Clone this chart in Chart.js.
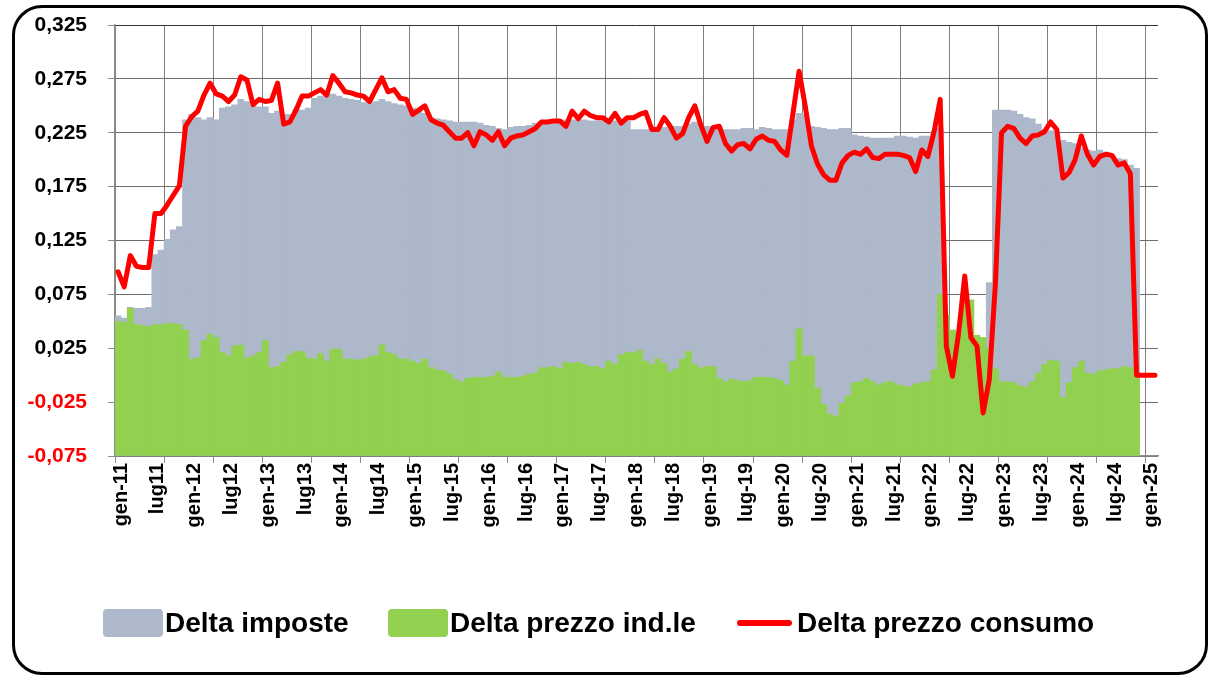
<!DOCTYPE html>
<html>
<head>
<meta charset="utf-8">
<script src="https://cdn.jsdelivr.net/npm/chart.js@4.4.1/dist/chart.umd.min.js"></script>
<style>
  html, body { margin: 0; padding: 0; background: #fff; }
  #wrap { position: relative; width: 1210px; height: 678px; overflow: hidden; }
  #c { position: absolute; left: 0; top: 0; }
  #frame { position: absolute; left: 12px; top: 5px; width: 1196px; height: 670px; box-sizing: border-box;
           border: 3px solid #000; border-radius: 30px; pointer-events: none; }
  .lg { position: absolute; font-family: "Liberation Sans", Arial, sans-serif; font-weight: bold;
        font-size: 28px; line-height: 28px; color: #000; white-space: nowrap; }
  .sw { position: absolute; border-radius: 4px; }
</style>
</head>
<body>
<div id="wrap">
  <canvas id="c" width="1210" height="678"></canvas>
  <div id="frame"></div>
  <div class="sw" style="left:103px;top:609px;width:60px;height:28px;background:#ADB9CA"></div>
  <div class="lg" style="left:165px;top:609px">Delta imposte</div>
  <div class="sw" style="left:388px;top:609px;width:60px;height:28px;background:#92D050"></div>
  <div class="lg" style="left:450px;top:609px">Delta prezzo ind.le</div>
  <div class="sw" style="left:737px;top:620px;width:55px;height:6px;background:#FF0000;border-radius:3px"></div>
  <div class="lg" style="left:797px;top:609px">Delta prezzo consumo</div>
</div>
<script>
// monthly categories gen-11 ... feb-25
const months = ['gen', 'feb', 'mar', 'apr', 'mag', 'giu', 'lug', 'ago', 'set', 'ott', 'nov', 'dic'];
const categories = [];
for (let y = 11; y <= 25; y++) {
  for (let m = 0; m < 12 && categories.length < 170; m++) categories.push(months[m] + '-' + y);
}

// labels shown every 6 months
const tickLabels = ['gen-11', 'lug11', 'gen-12', 'lug12', 'gen-13', 'lug13', 'gen-14', 'lug14',
  'gen-15', 'lug-15', 'gen-16', 'lug-16', 'gen-17', 'lug-17', 'gen-18', 'lug-18', 'gen-19', 'lug-19',
  'gen-20', 'lug-20', 'gen-21', 'lug-21', 'gen-22', 'lug-22', 'gen-23', 'lug-23', 'gen-24', 'lug-24', 'gen-25'];

const yTicks = [-0.075, -0.025, 0.025, 0.075, 0.125, 0.175, 0.225, 0.275, 0.325];

const deltaImposte = [
  0.055, 0.053, 0.063, 0.062, 0.062, 0.063, 0.112, 0.116, 0.126, 0.135, 0.138, 0.237,
  0.242, 0.239, 0.237, 0.239, 0.237, 0.248, 0.249, 0.251, 0.256, 0.254, 0.250, 0.249,
  0.249, 0.243, 0.245, 0.242, 0.242, 0.247, 0.246, 0.248, 0.257, 0.259, 0.260, 0.261,
  0.259, 0.257, 0.256, 0.255, 0.253, 0.252, 0.254, 0.256, 0.254, 0.252, 0.251, 0.250,
  0.248, 0.246, 0.243, 0.239, 0.238, 0.237, 0.236, 0.235, 0.235, 0.235, 0.235, 0.234,
  0.232, 0.231, 0.229, 0.228, 0.230, 0.231, 0.231, 0.232, 0.234, 0.235, 0.235, 0.236,
  0.236, 0.237, 0.237, 0.237, 0.237, 0.236, 0.236, 0.236, 0.236, 0.236, 0.236, 0.236,
  0.228, 0.228, 0.228, 0.229, 0.229, 0.230, 0.231, 0.231, 0.231, 0.233, 0.235, 0.232,
  0.231, 0.230, 0.229, 0.228, 0.228, 0.228, 0.229, 0.229, 0.228, 0.230, 0.229, 0.228,
  0.228, 0.228, 0.237, 0.243, 0.242, 0.231, 0.230, 0.229, 0.228, 0.228, 0.229, 0.229,
  0.223, 0.222, 0.221, 0.220, 0.220, 0.220, 0.220, 0.222, 0.222, 0.221, 0.220, 0.222,
  0.222, 0.226, 0.229, -0.070, -0.070, -0.070, -0.070, -0.070, -0.070, -0.070, 0.086, 0.246,
  0.246, 0.246, 0.245, 0.242, 0.239, 0.238, 0.233, 0.228, 0.227, 0.226, 0.218, 0.216,
  0.215, 0.211, 0.209, 0.208, 0.209, 0.207, 0.203, 0.201, 0.200, 0.195, 0.192
];

const deltaPrezzoInd = [
  0.050, 0.049, 0.062, 0.047, 0.046, 0.045, 0.047, 0.047, 0.048, 0.048, 0.047, 0.042,
  0.015, 0.016, 0.032, 0.038, 0.035, 0.021, 0.018, 0.027, 0.028, 0.016, 0.018, 0.021,
  0.032, 0.007, 0.008, 0.012, 0.019, 0.022, 0.022, 0.016, 0.015, 0.020, 0.013, 0.024,
  0.024, 0.015, 0.015, 0.014, 0.015, 0.017, 0.018, 0.028, 0.021, 0.019, 0.015, 0.015,
  0.013, 0.011, 0.015, 0.007, 0.005, 0.004, 0.001, -0.004, -0.006, -0.003, -0.002, -0.002,
  -0.002, -0.001, 0.003, -0.002, -0.002, -0.002, -0.001, 0.001, 0.002, 0.007, 0.007, 0.008,
  0.006, 0.012, 0.011, 0.012, 0.010, 0.008, 0.008, 0.006, 0.013, 0.010, 0.019, 0.021,
  0.021, 0.023, 0.013, 0.010, 0.015, 0.011, 0.003, 0.006, 0.015, 0.022, 0.010, 0.007,
  0.008, 0.008, -0.003, -0.006, -0.004, -0.005, -0.006, -0.005, -0.002, -0.002, -0.002, -0.003,
  -0.005, -0.009, 0.013, 0.043, 0.018, 0.018, -0.012, -0.027, -0.036, -0.038, -0.026, -0.019,
  -0.007, -0.006, -0.003, -0.006, -0.009, -0.007, -0.006, -0.009, -0.010, -0.011, -0.008, -0.007,
  -0.006, 0.005, 0.075, 0.056, 0.042, 0.040, 0.073, 0.070, 0.037, 0.035, 0.025, 0.006,
  -0.006, -0.006, -0.007, -0.010, -0.011, -0.006, 0.002, 0.010, 0.014, 0.013, -0.021, -0.007,
  0.007, 0.013, 0.002, 0.001, 0.004, 0.005, 0.006, 0.006, 0.008, 0.007, 0.000
];

const deltaPrezzoConsumo = [
  0.096, 0.082, 0.111, 0.101, 0.100, 0.100, 0.150, 0.150, 0.158, 0.167, 0.176, 0.231,
  0.240, 0.245, 0.260, 0.271, 0.261, 0.259, 0.254, 0.260, 0.277, 0.274, 0.251, 0.256,
  0.254, 0.255, 0.271, 0.233, 0.235, 0.246, 0.259, 0.259, 0.262, 0.265, 0.260, 0.278,
  0.271, 0.263, 0.262, 0.260, 0.259, 0.254, 0.265, 0.276, 0.263, 0.265, 0.257, 0.256,
  0.242, 0.246, 0.250, 0.237, 0.234, 0.232, 0.226, 0.220, 0.220, 0.225, 0.213, 0.226,
  0.223, 0.218, 0.226, 0.213, 0.220, 0.222, 0.223, 0.226, 0.229, 0.235, 0.235, 0.236,
  0.236, 0.231, 0.245, 0.238, 0.245, 0.241, 0.239, 0.239, 0.235, 0.243, 0.234, 0.239,
  0.239, 0.242, 0.244, 0.228, 0.228, 0.239, 0.231, 0.220, 0.224, 0.239, 0.250, 0.232,
  0.217, 0.230, 0.231, 0.215, 0.208, 0.214, 0.215, 0.210, 0.219, 0.222, 0.218, 0.217,
  0.209, 0.204, 0.243, 0.282, 0.250, 0.213, 0.196, 0.186, 0.181, 0.181, 0.197, 0.204,
  0.207, 0.205, 0.210, 0.202, 0.201, 0.205, 0.205, 0.205, 0.204, 0.202, 0.189, 0.209,
  0.203, 0.226, 0.256, 0.027, -0.001, 0.039, 0.092, 0.035, 0.027, -0.035, -0.004, 0.085,
  0.225, 0.231, 0.229, 0.220, 0.215, 0.222, 0.223, 0.226, 0.235, 0.228, 0.183, 0.188,
  0.200, 0.222, 0.205, 0.195, 0.203, 0.205, 0.204, 0.195, 0.197, 0.187, 0.000, 0.000,
  0.000, 0.000
];

const axisFont = { family: 'Liberation Sans', size: 20, weight: 'bold' };

new Chart(document.getElementById('c'), {
  type: 'bar',
  data: {
    labels: categories,
    datasets: [
      {
        label: 'Delta imposte', data: deltaImposte, backgroundColor: '#ADB9CA',
        grouped: false, base: -0.075, barPercentage: 1, categoryPercentage: 1, order: 3
      },
      {
        label: 'Delta prezzo ind.le', data: deltaPrezzoInd, backgroundColor: '#92D050',
        grouped: false, base: -0.075, barPercentage: 1, categoryPercentage: 1, order: 2
      },
      {
        type: 'line', label: 'Delta prezzo consumo', data: deltaPrezzoConsumo,
        borderColor: '#FF0000', borderWidth: 5, pointRadius: 0, tension: 0,
        borderJoinStyle: 'round', borderCapStyle: 'round', fill: false, order: 1
      }
    ]
  },
  options: {
    responsive: false,
    animation: false,
    layout: { padding: { left: 0, top: 25, right: 52, bottom: 122 } },
    plugins: { legend: { display: false }, tooltip: { enabled: false } },
    scales: {
      x: {
        offset: true,
        afterFit: s => { s.height = 100; },
        grid: {
          offset: true,
          color: ctx => ctx.index === 170 ? '#000' : (ctx.index % 8 === 0 ? '#7F7F7F' : 'rgba(0,0,0,0)'),
          lineWidth: ctx => ctx.index === 170 ? 2 : 1,
          tickColor: ctx => ctx.index % 8 === 0 ? '#8C8C8C' : 'rgba(0,0,0,0)',
          tickLength: 7
        },
        border: { color: '#8C8C8C', width: 1.5 },
        ticks: {
          autoSkip: false, minRotation: 90, maxRotation: 90, padding: 0, labelOffset: 3,
          color: '#000', font: axisFont,
          callback: (v, i) => (i % 6 === 0 ? tickLabels[i / 6] : '')
        }
      },
      y: {
        min: -0.075,
        max: 0.325,
        afterBuildTicks: s => { s.ticks = yTicks.map(v => ({ value: v })); },
        afterFit: s => { s.width = 115; s.paddingTop = 0; s.paddingBottom = 0; },
        grid: {
          color: ctx => (ctx.tick && ctx.tick.value > 0.3 ? '#333' : '#6E6E6E'),
          tickColor: '#8C8C8C',
          tickLength: 7
        },
        border: { color: '#8C8C8C', width: 1.5 },
        ticks: {
          padding: 21,
          font: { family: 'Liberation Sans', size: 21, weight: 'bold' },
          color: ctx => (ctx.tick.value < 0 ? '#FF0000' : '#000'),
          callback: v => v.toFixed(3).replace('.', ',')
        }
      }
    }
  }
});
</script>
</body>
</html>
